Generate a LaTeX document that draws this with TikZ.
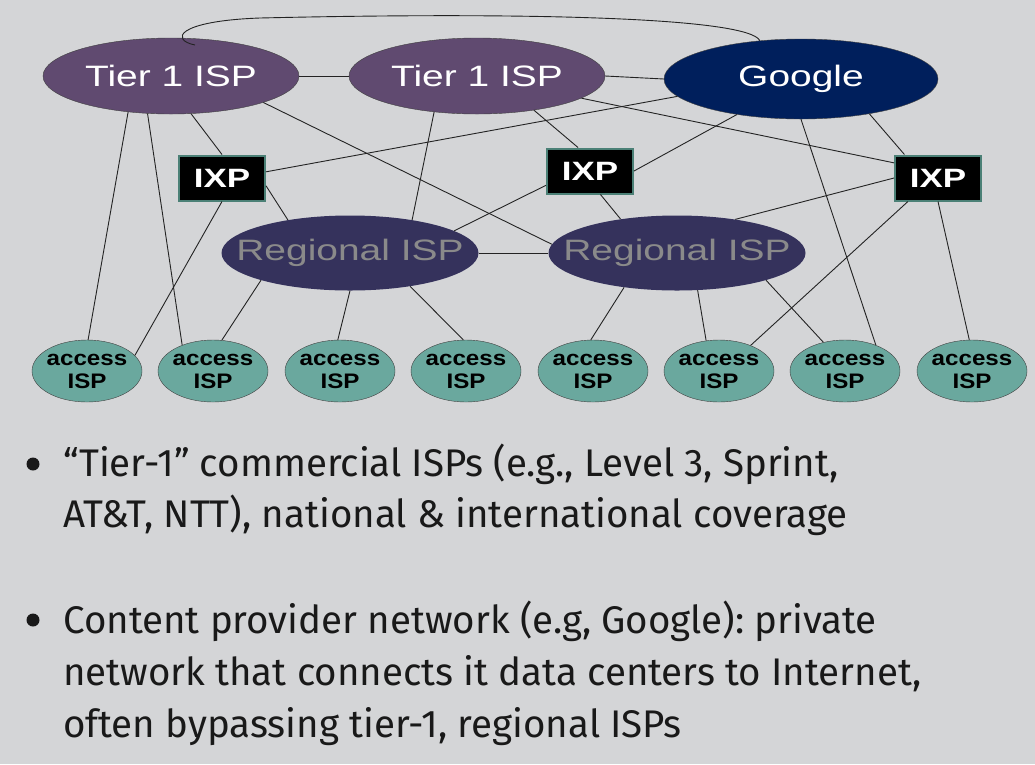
\documentclass[tikz,border=0pt]{standalone}
\usepackage{fontspec}
\usetikzlibrary{
  shapes.geometric,
  calc
}
\newfontfamily\diagfont{Liberation Sans}[FakeStretch=1.32]
\newfontfamily\accfont{Liberation Sans}[FakeStretch=1.15]
\newfontfamily\bulletfont{Fira Sans}
\definecolor{bggray}{RGB}{212,213,215}
\definecolor{tierpurple}{RGB}{96,74,112}
\definecolor{googblue}{RGB}{0,31,92}
\definecolor{regblue}{RGB}{53,50,92}
\definecolor{reggray}{RGB}{138,138,138}
\definecolor{accteal}{RGB}{106,168,158}
\definecolor{ixpteal}{RGB}{75,128,118}
\definecolor{linkgray}{RGB}{35,35,35}
\frenchspacing

\begin{document}
\begin{tikzpicture}[
    x=1pt, y=-1pt,
    tier/.style={
      ellipse,
      draw=black!75,
      fill=tierpurple,
      text=white,
      inner xsep=-20pt,
      inner ysep=0pt,
      minimum width=256pt,
      minimum height=76pt,
      font=\diagfont\fontsize{29.5}{32}\selectfont
    },
    content/.style={
      tier,
      fill=googblue,
      minimum width=274pt,
      minimum height=80pt
    },
    regional/.style={
      tier,
      draw=none,
      fill=regblue,
      text=reggray,
      inner xsep=-35pt,
      minimum width=257pt,
      minimum height=75pt
    },
    access/.style={
      ellipse,
      draw=black!75,
      fill=accteal,
      align=center,
      inner sep=-6pt,
      minimum width=110pt,
      minimum height=62pt,
      font=\accfont\bfseries\fontsize{21}{23}\selectfont
    },
    ixp/.style={
      rectangle,
      draw=ixpteal,
      line width=2pt,
      fill=black,
      text=white,
      inner sep=0pt,
      minimum width=86pt,
      minimum height=45pt,
      font=\diagfont\bfseries\fontsize{26.5}{28}\selectfont
    },
    link/.style={draw=linkgray, line width=0.9pt},
    bulletdot/.style={circle, fill=black!90, inner sep=0pt, minimum size=13pt},
    bulletline/.style={anchor=base west, inner sep=0pt, text=black!90,
      font=\bulletfont\fontsize{38.5}{44}\selectfont}
  ]

  \fill[bggray] (0,0) rectangle (1035,764);
  \useasboundingbox (0,0) rectangle (1035,764);

  \node[tier] (t1a) at (171,76) {Tier 1 ISP};
  \node[tier] (t1b) at (477,76) {Tier 1 ISP};
  \node[content] (goog) at (801,79) {Google};

  \node[ixp] (ixpa) at (222,178) {IXP};
  \node[ixp] (ixpb) at (590,171) {IXP};
  \node[ixp] (ixpc) at (938,178) {IXP};

  \node[regional] (rega) at (350,253) {Regional ISP};
  \node[regional] (regb) at (677,253) {Regional ISP};

  \foreach \i/\x in {1/87,2/213,3/340,4/466,5/593,6/719,7/845,8/972}
    \node[access] (acc\i) at (\x,371) {access\\ISP};

  % tier 1 and content provider links
  \draw[link] (t1a.east) -- (t1b.west);
  \draw[link] (t1b.east) -- (goog.west);
  \draw[link] ($(t1a)+(24,-31)$) .. controls (170,40) and (176,21) .. (260,18)
    .. controls (520,12) and (748,17) .. (goog.137);
  \draw[link] (t1a.220) -- (acc1.88);
  \draw[link] (t1a.238) -- (acc2.140);
  \draw[link] (t1a.-62) -- (ixpa.north);
  \draw[link] (t1a.-16) -- (regb.176);
  \draw[link] (t1b.220) -- (rega.28);
  \draw[link] (t1b.-31) -- (ixpb.117);
  \draw[link] (t1b.-12) -- (ixpc.161);
  \draw[link] (goog.209) -- (ixpb.east);
  \draw[link] (goog.188) -- (ixpa.8);
  \draw[link] (goog.south) -- (acc7.40);
  \draw[link] (goog.-27) -- (ixpc.145);

  % IXP links
  \draw[link] (ixpa.south) -- (acc1.18);
  \draw[link] (ixpa.-10) -- (rega.152);
  \draw[link] (ixpb.198) -- (rega.12);
  \draw[link] (ixpb.-66) -- (regb.149);
  \draw[link] (ixpc.west) -- (regb.30);
  \draw[link] (ixpc.218) -- (acc6.39);
  \draw[link] (ixpc.south) -- (acc8.95);

  % regional links
  \draw[link] (rega.east) -- (regb.west);
  \draw[link] (rega.197) -- (acc2.74);
  \draw[link] (rega.south) -- (acc3.94);
  \draw[link] (rega.-29) -- (acc4.95);
  \draw[link] (regb.213) -- (acc5.94);
  \draw[link] (regb.-61) -- (acc6.113);
  \draw[link] (regb.-17) -- (acc7.127);

  \node[bulletdot] (b1) at (33,464) {};
  \node[bulletline] (l1) at (63,476) {“Tier-1” commercial ISPs (e.g., Level 3, Sprint,};
  \node[bulletline] (l2) at (63,527) {AT\&T, NTT), national \& international coverage};
  \node[bulletdot] (b2) at (33,620) {};
  \node[bulletline] (l3) at (63,633) {Content provider network (e.g, Google): private};
  \node[bulletline] (l4) at (63,685) {network that connects it data centers to Internet,};
  \node[bulletline] (l5) at (63,737) {often bypassing tier-1, regional ISPs};
\end{tikzpicture}
\end{document}
